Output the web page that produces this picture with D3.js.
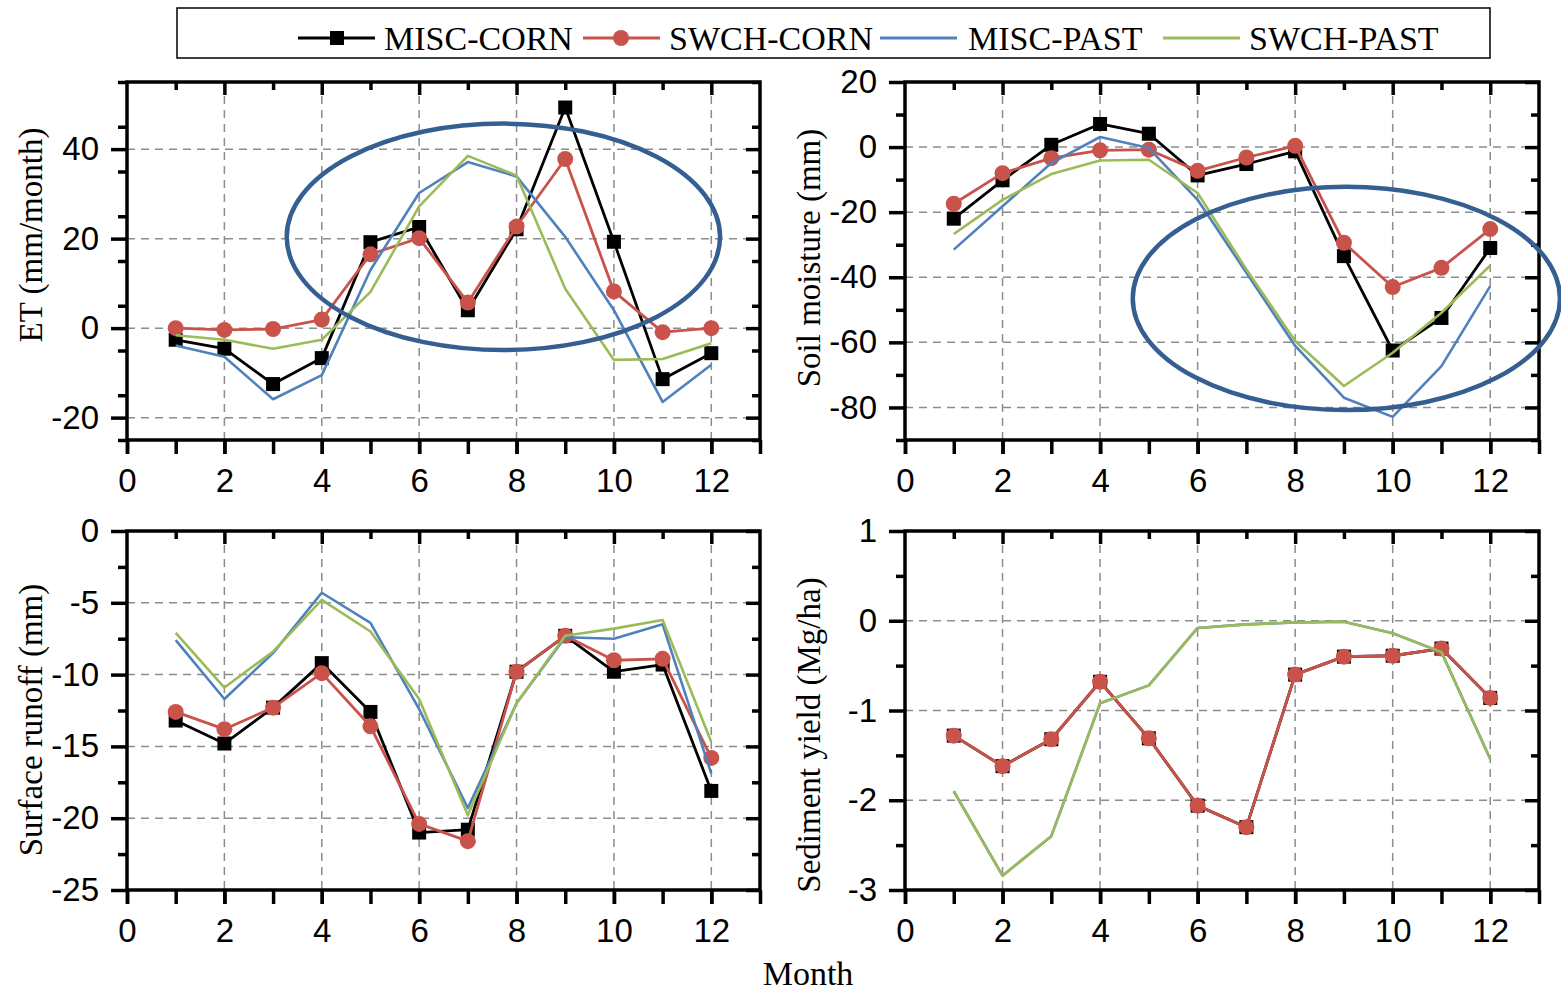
<!DOCTYPE html>
<html>
<head>
<meta charset="utf-8">
<script src="https://cdn.jsdelivr.net/npm/d3@7"></script>
<style>
  body { margin: 0; background: #fff; }
  svg { display: block; }
</style>
</head>
<body>
<div id="chart-container"></div>
<script>
// Data
const months = [1, 2, 3, 4, 5, 6, 7, 8, 9, 10, 11, 12];
const seriesNames = ["MISC-CORN", "SWCH-CORN", "MISC-PAST", "SWCH-PAST"];

const etMiscCorn = [-2.6, -4.6, -12.5, -6.7, 19.2, 22.6, 4.0, 22.1, 49.3, 19.3, -11.4, -5.6];
const etSwchCorn = [0.0, -0.4, -0.2, 1.9, 16.5, 20.1, 5.7, 22.7, 37.8, 8.2, -0.9, 0.0];
const etMiscPast = [-3.9, -6.4, -15.9, -10.5, 13.0, 30.2, 37.1, 33.9, 20.4, 4.0, -16.5, -8.2];
const etSwchPast = [-1.6, -2.6, -4.6, -2.6, 8.1, 27.2, 38.5, 34.1, 8.8, -7.1, -6.9, -3.4];

const soilMiscCorn = [-22.0, -10.2, 0.7, 7.1, 4.1, -8.7, -5.2, -1.3, -33.5, -62.5, -52.5, -31.0];
const soilSwchCorn = [-17.4, -8.0, -3.4, -1.0, -0.8, -7.3, -3.2, 0.4, -29.4, -43.0, -37.1, -25.2];
const soilMiscPast = [-31.5, -18.2, -4.9, 3.1, -0.3, -16.2, -38.6, -61.1, -77.0, -82.9, -67.3, -42.7];
const soilSwchPast = [-26.7, -16.2, -8.3, -4.1, -3.9, -14.1, -37.6, -59.6, -73.4, -63.2, -50.9, -36.4];

const runoffMiscCorn = [-13.2, -14.8, -12.3, -9.2, -12.6, -21.0, -20.8, -9.8, -7.3, -9.8, -9.3, -18.1];
const runoffSwchCorn = [-12.6, -13.8, -12.3, -9.9, -13.6, -20.4, -21.6, -9.8, -7.3, -9.0, -8.9, -15.8];
const runoffMiscPast = [-7.6, -11.7, -8.5, -4.3, -6.4, -12.4, -19.3, -12.0, -7.4, -7.5, -6.5, -16.9];
const runoffSwchPast = [-7.1, -10.9, -8.4, -4.8, -7.0, -11.7, -19.8, -12.0, -7.3, -6.8, -6.2, -14.7];

const sedMiscCorn = [-1.28, -1.62, -1.32, -0.68, -1.31, -2.06, -2.30, -0.60, -0.40, -0.39, -0.31, -0.86];
const sedSwchCorn = [-1.28, -1.62, -1.32, -0.68, -1.31, -2.06, -2.30, -0.60, -0.40, -0.39, -0.31, -0.86];
const sedMiscPast = [-1.90, -2.84, -2.40, -0.92, -0.72, -0.08, -0.04, -0.02, -0.01, -0.14, -0.35, -1.54];
const sedSwchPast = [-1.90, -2.84, -2.40, -0.92, -0.72, -0.08, -0.04, -0.02, -0.01, -0.14, -0.35, -1.54];

// tick labels
const xTickLabels = [0, 2, 4, 6, 8, 10, 12];
const etTicks = [-20, 0, 20, 40];
const soilTicks = [-80, -60, -40, -20, 0, 20];
const runoffTicks = [-25, -20, -15, -10, -5, 0];
const sedTicks = [-3, -2, -1, 0, 1];

// highlight ellipses [cx month, cy value, rx months, ry value]
const etEllipse = [7.73, 20.4, 4.45, 25.3];
const soilEllipse = [9.05, -46.5, 4.38, 34.3];

// Styles
const colors = {"MISC-CORN": "#000000", "SWCH-CORN": "#c9534b", "MISC-PAST": "#4f81bd", "SWCH-PAST": "#9bbb59"};
const markers = {"MISC-CORN": "square", "SWCH-CORN": "circle"};
const tickFont = "'Liberation Sans Narrow', 'Arial Narrow', 'Liberation Sans', Arial, sans-serif";
const serifFont = "'Liberation Serif', 'Times New Roman', serif";

const svg = d3.select("#chart-container")
  .append("svg")
  .attr("width", 1561)
  .attr("height", 991);

const panels = [
  {left: 127, right: 760, top: 82, bottom: 440, yDomain: [-25, 55], major: etTicks, minorStep: 10,
   title: "ET (mm/month)", titleX: 30, titleY: 235, ellipse: etEllipse,
   series: [etMiscCorn, etSwchCorn, etMiscPast, etSwchPast]},
  {left: 905, right: 1539, top: 82, bottom: 440, yDomain: [-90, 20], major: soilTicks, minorStep: 10,
   title: "Soil moisture (mm)", titleX: 808, titleY: 258, ellipse: soilEllipse,
   series: [soilMiscCorn, soilSwchCorn, soilMiscPast, soilSwchPast]},
  {left: 127, right: 760, top: 531, bottom: 890, yDomain: [-25, 0], major: runoffTicks, minorStep: 2.5,
   title: "Surface runoff (mm)", titleX: 30, titleY: 720,
   series: [runoffMiscCorn, runoffSwchCorn, runoffMiscPast, runoffSwchPast]},
  {left: 905, right: 1539, top: 531, bottom: 890, yDomain: [-3, 1], major: sedTicks, minorStep: 0.5,
   title: "Sediment yield (Mg/ha)", titleX: 808, titleY: 735,
   series: [sedMiscCorn, sedSwchCorn, sedMiscPast, sedSwchPast]}
];

function styleTicks(g, width) {
  g.select(".domain").remove();
  g.selectAll(".tick line").attr("stroke", "#000").attr("stroke-width", width);
}

panels.forEach(p => {
  const x = d3.scaleLinear().domain([0, 13]).range([p.left, p.right]);
  const y = d3.scaleLinear().domain(p.yDomain).range([p.bottom, p.top]);
  const [y0, y1] = p.yDomain;

  // minor values sit between majors
  const minor = [];
  for (let v = y0; v <= y1 + 1e-9; v += p.minorStep) {
    if (!p.major.some(m => Math.abs(m - v) < 1e-9)) minor.push(+v.toFixed(3));
  }

  const g = svg.append("g");

  // Grid
  g.selectAll(".vgrid")
    .data(xTickLabels.filter(d => d > 0))
    .join("line")
      .attr("x1", d => x(d)).attr("x2", d => x(d))
      .attr("y1", p.top).attr("y2", p.bottom)
      .attr("stroke", "#8c8c8c").attr("stroke-width", 1.5).attr("stroke-dasharray", "8,6");

  g.selectAll(".hgrid")
    .data(p.major.filter(d => d > y0 && d < y1))
    .join("line")
      .attr("x1", p.left).attr("x2", p.right)
      .attr("y1", d => y(d)).attr("y2", d => y(d))
      .attr("stroke", "#8c8c8c").attr("stroke-width", 1.5).attr("stroke-dasharray", "8,6");

  // Left axis: outward ticks with labels
  g.append("g")
    .attr("transform", `translate(${p.left},0)`)
    .call(d3.axisLeft(y).tickValues(p.major).tickSize(16).tickPadding(12).tickFormat(d => String(d)))
    .call(a => styleTicks(a, 3.5))
    .call(a => a.selectAll("text")
      .attr("font-family", tickFont).attr("font-size", 33).attr("fill", "#000"));

  g.append("g")
    .attr("transform", `translate(${p.left},0)`)
    .call(d3.axisLeft(y).tickValues(minor).tickSize(9).tickFormat(""))
    .call(a => styleTicks(a, 3.5));

  // Right axis: inward ticks
  g.append("g")
    .attr("transform", `translate(${p.right},0)`)
    .call(d3.axisLeft(y).tickValues(p.major).tickSize(14).tickFormat(""))
    .call(a => styleTicks(a, 3.5));

  g.append("g")
    .attr("transform", `translate(${p.right},0)`)
    .call(d3.axisLeft(y).tickValues(minor).tickSize(8).tickFormat(""))
    .call(a => styleTicks(a, 3.5));

  // Top axis: inward ticks
  g.append("g")
    .attr("transform", `translate(0,${p.top})`)
    .call(d3.axisBottom(x).tickValues(months.filter(d => d % 2 === 0)).tickSize(13).tickFormat(""))
    .call(a => styleTicks(a, 3.5));

  g.append("g")
    .attr("transform", `translate(0,${p.top})`)
    .call(d3.axisBottom(x).tickValues(months.filter(d => d % 2 === 1)).tickSize(8).tickFormat(""))
    .call(a => styleTicks(a, 3.5));

  // Bottom axis: outward ticks, labels on even months
  g.append("g")
    .attr("transform", `translate(0,${p.bottom})`)
    .call(d3.axisBottom(x).tickValues([0, ...months, 13]).tickSize(14).tickFormat(""))
    .call(a => styleTicks(a, 3.5));

  g.append("g")
    .attr("transform", `translate(0,${p.bottom})`)
    .call(d3.axisBottom(x).tickValues(xTickLabels).tickSize(14).tickPadding(15).tickFormat(d => String(d)))
    .call(a => styleTicks(a, 3.5))
    .call(a => a.selectAll("text")
      .attr("font-family", tickFont).attr("font-size", 33).attr("fill", "#000"));

  // Frame
  g.append("rect")
    .attr("x", p.left).attr("y", p.top)
    .attr("width", p.right - p.left).attr("height", p.bottom - p.top)
    .attr("fill", "none").attr("stroke", "#000").attr("stroke-width", 3.5);

  // Y title
  g.append("text")
    .attr("transform", `translate(${p.titleX},${p.titleY}) rotate(-90)`)
    .attr("text-anchor", "middle")
    .attr("dy", "0.35em")
    .attr("font-family", serifFont)
    .attr("font-size", 33)
    .text(p.title);

  // Lines
  const line = d3.line()
    .x((d, i) => x(months[i]))
    .y(d => y(d));

  seriesNames.forEach((name, k) => {
    const vals = p.series[k];
    g.append("path")
      .attr("d", line(vals))
      .attr("fill", "none")
      .attr("stroke", colors[name])
      .attr("stroke-width", k < 2 ? 2.8 : 2.6)
      .attr("stroke-linejoin", "round");

    if (markers[name] === "square") {
      g.selectAll(null)
        .data(vals)
        .join("rect")
          .attr("x", (d, i) => x(months[i]) - 7)
          .attr("y", d => y(d) - 7)
          .attr("width", 14).attr("height", 14)
          .attr("fill", colors[name]);
    } else if (markers[name] === "circle") {
      g.selectAll(null)
        .data(vals)
        .join("circle")
          .attr("cx", (d, i) => x(months[i]))
          .attr("cy", d => y(d))
          .attr("r", 8)
          .attr("fill", colors[name]);
    }
  });

  // Highlight ellipse
  if (p.ellipse) {
    const [cx, cy, rx, ry] = p.ellipse;
    g.append("ellipse")
      .attr("cx", x(cx)).attr("cy", y(cy))
      .attr("rx", x(rx) - x(0)).attr("ry", y(0) - y(ry))
      .attr("fill", "none")
      .attr("stroke", "#365f91")
      .attr("stroke-width", 4.5);
  }
});

// Shared x label
svg.append("text")
  .attr("x", 808).attr("y", 985)
  .attr("text-anchor", "middle")
  .attr("font-family", serifFont)
  .attr("font-size", 34)
  .text("Month");

// Legend
const legend = svg.append("g");
legend.append("rect")
  .attr("x", 177).attr("y", 8)
  .attr("width", 1313).attr("height", 50)
  .attr("fill", "#fff").attr("stroke", "#000").attr("stroke-width", 1.5);

const legendX = [298, 583, 880, 1163];
const legendItem = legend.selectAll(".legend-item")
  .data(seriesNames)
  .join("g")
    .attr("class", "legend-item")
    .attr("transform", (d, i) => `translate(${legendX[i]},38)`);

legendItem.append("line")
  .attr("x1", 0).attr("x2", 77)
  .attr("stroke", d => colors[d])
  .attr("stroke-width", 2.8);

legendItem.filter(d => markers[d] === "square")
  .append("rect")
  .attr("x", 32).attr("y", -7).attr("width", 14).attr("height", 14)
  .attr("fill", d => colors[d]);

legendItem.filter(d => markers[d] === "circle")
  .append("circle")
  .attr("cx", 38).attr("r", 8)
  .attr("fill", d => colors[d]);

legendItem.append("text")
  .attr("x", (d, i) => i === 2 ? 88 : 86)
  .attr("y", 12)
  .attr("font-family", serifFont)
  .attr("font-size", 34)
  .text(d => d);
</script>
</body>
</html>
